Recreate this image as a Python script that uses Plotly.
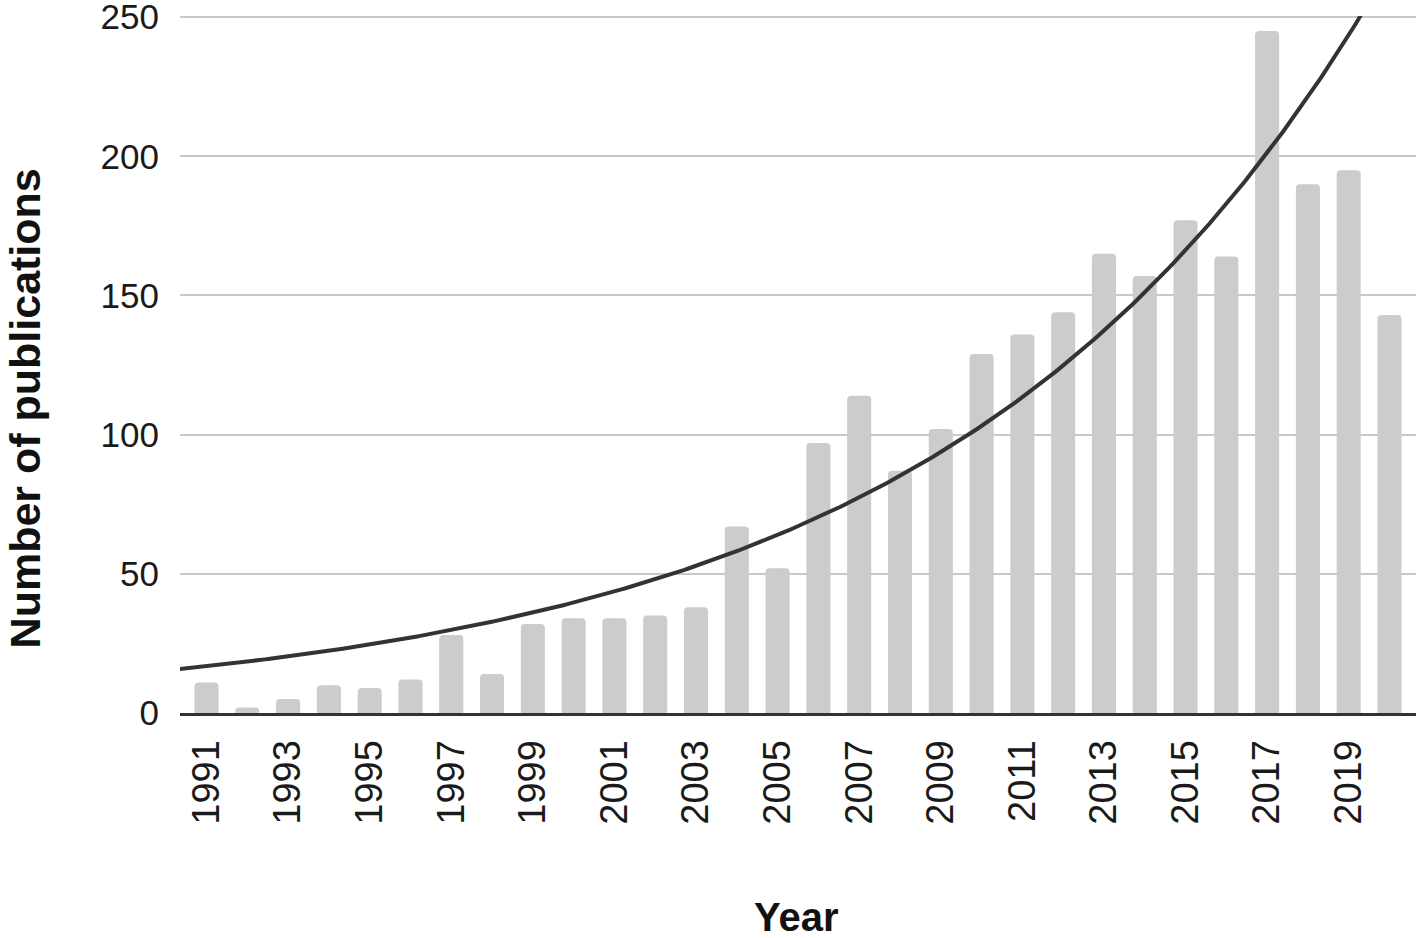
import numpy as np
import plotly.graph_objects as go

years = list(range(1991, 2021))
publications = [11, 2, 5, 10, 9, 12, 28, 14, 32, 34,
                34, 35, 38, 67, 52, 97, 114, 87, 102, 129,
                136, 144, 165, 157, 177, 164, 245, 190, 195, 143]
tick_years = list(range(1991, 2021, 2))
y_ticks = [0, 50, 100, 150, 200, 250]

# exponential trendline parameters
trend_start = 16.8      # trend value at 1991
trend_growth = 0.0955   # yearly exponential growth rate

x_fit = np.linspace(1990.3, 2020.7, 400)
y_fit = trend_start * np.exp(trend_growth * (x_fit - years[0]))

font = "Liberation Sans, Arial, sans-serif"

fig = go.Figure()
fig.add_trace(go.Bar(x=years, y=publications, marker_color="#cccccc",
                     marker_line_width=0, width=0.59, hoverinfo="x+y"))
fig.add_trace(go.Scatter(x=x_fit, y=y_fit, mode="lines",
                         line=dict(color="#333333", width=4), hoverinfo="skip"))

fig.update_layout(
    width=1418, height=938,
    margin=dict(l=180, r=2, t=16, b=225, autoexpand=False),
    paper_bgcolor="white", plot_bgcolor="white",
    showlegend=False, barcornerradius=4,
    font=dict(family=font, color="#1a1a1a"),
    xaxis=dict(range=[1990.35, 2020.65], tickmode="array", tickvals=tick_years,
               ticktext=[str(t) for t in tick_years], tickangle=-90,
               tickfont=dict(size=38, color="#1a1a1a"), showgrid=False,
               ticks="", ticklabelstandoff=9, zeroline=False, automargin=False,
               showline=True, linecolor="#333333", linewidth=3),
    yaxis=dict(range=[0, 250.4], tickvals=y_ticks, tickfont=dict(size=35, color="#1a1a1a"),
               showgrid=True, gridcolor="#c8c8c8", gridwidth=2, zeroline=False,
               ticks="", ticklabelstandoff=20, automargin=False,
               ticklabeloverflow="allow"),
    annotations=[
        dict(text="<b>Year</b>", xref="paper", yref="paper", x=0.499, y=-0.292,
             xanchor="center", yanchor="middle", showarrow=False,
             font=dict(size=40, color="#111111")),
        dict(text="<b>Number of publications</b>", xref="paper", x=-0.1254,
             yref="paper", y=0.437, textangle=-90, xanchor="center", yanchor="middle",
             showarrow=False, font=dict(size=43, color="#111111")),
    ],
)

fig.write_html("out.html", config={"displayModeBar": False},
               post_script="document.body.style.margin='0';document.body.style.padding='0';")
